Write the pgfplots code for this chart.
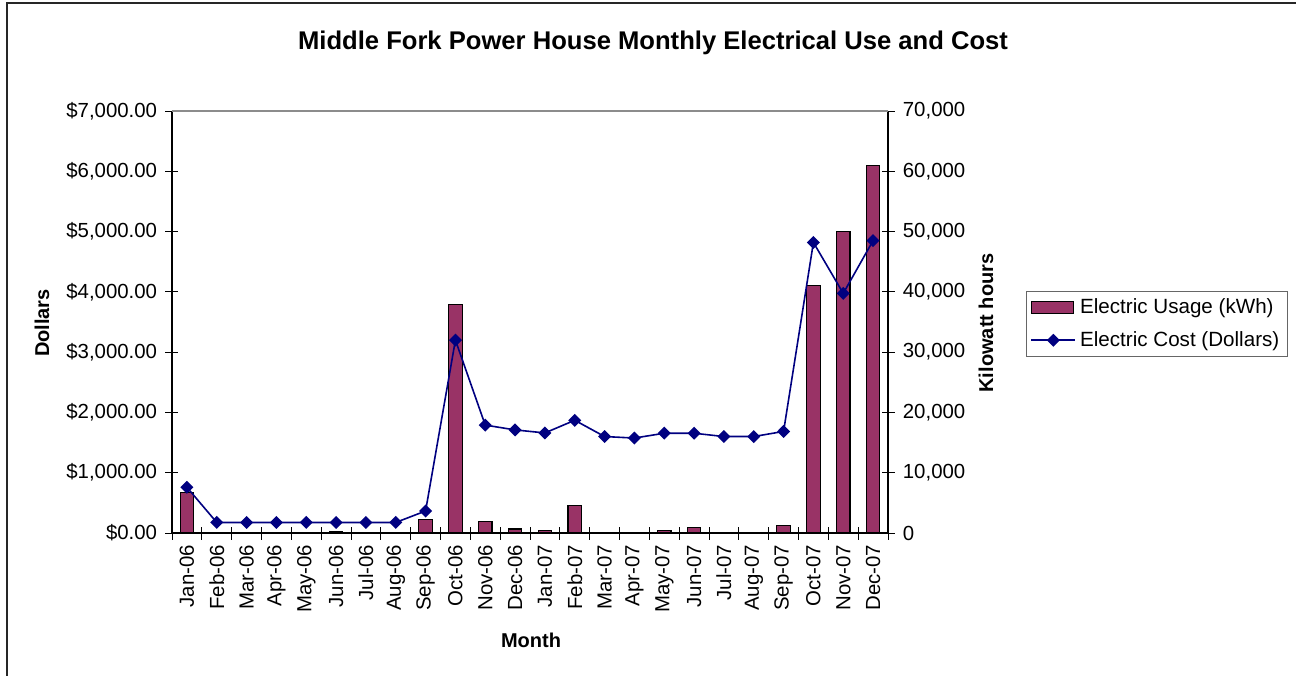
\documentclass[border=0pt]{standalone}
\usepackage{fontspec}
\setmainfont{Liberation Sans}
\usepackage{pgfplots}
\usepackage{pgfplotstable}
\pgfplotsset{compat=1.18}
\definecolor{barcol}{HTML}{993366}
\definecolor{linecol}{HTML}{000080}

\pgfplotstableread{
idx kwh cost
0 6750 758
1 0 175
2 0 175
3 0 175
4 0 175
5 150 175
6 0 175
7 0 175
8 2270 365
9 37900 3200
10 1950 1790
11 660 1710
12 400 1660
13 4600 1870
14 0 1600
15 0 1575
16 400 1655
17 950 1655
18 0 1600
19 0 1600
20 1200 1685
21 41000 4820
22 50000 3975
23 61000 4850
}\datatable

\pgfplotsset{
  every tick label/.append style={font=\fontsize{10.2}{12}\selectfont},
  /pgf/number format/assume math mode=true,
  mylinelegend/.style={legend image code/.code={\draw[mark repeat=2,mark phase=2,##1] plot coordinates {(0pt,0pt)(11pt,0pt)(22pt,0pt)};}},
  mybarlegend/.style={legend image code/.code={\draw[fill=barcol,draw=black,line width=0.6pt] (0pt,-3pt) rectangle (21pt,3pt);}},
}

\begin{document}
\begin{tikzpicture}[x=1pt,y=1pt]
\useasboundingbox (-86,-71) rectangle (562,266.5);
\draw[line width=0.9pt, black!85] (-82.5,-80) -- (-82.5,264.8) -- (575,264.8);

% bars, right axis
\begin{axis}[
  at={(0,0)}, anchor=south west,
  scale only axis, width=358pt, height=211pt,
  xmin=-0.5, xmax=23.5, ymin=0, ymax=70000,
  scaled y ticks=false,
  axis y line*=right, axis x line*=bottom,
  axis line style={black, line width=0.6pt},
  tick align=center, major tick length=6.5pt,
  tick style={black, line width=0.5pt},
  xtick={-0.5,0.5,...,23.5},
  x tick label as interval,
  xticklabels={Jan-06,Feb-06,Mar-06,Apr-06,May-06,Jun-06,Jul-06,Aug-06,Sep-06,Oct-06,Nov-06,Dec-06,Jan-07,Feb-07,Mar-07,Apr-07,May-07,Jun-07,Jul-07,Aug-07,Sep-07,Oct-07,Nov-07,Dec-07},
  xticklabel style={rotate=90, anchor=east, inner sep=2.5pt},
  ytick={0,10000,20000,30000,40000,50000,60000,70000},
  yticklabels={0,{10,000},{20,000},{30,000},{40,000},{50,000},{60,000},{70,000}},
  yticklabel style={inner sep=1.5pt, xshift=2.5pt},
  clip=false,
]
\addplot[ybar, bar width=6.7pt, fill=barcol, draw=black, line width=0.6pt]
  table[x=idx, y=kwh]{\datatable};
\end{axis}

% line, left axis
\begin{axis}[
  at={(0,0)}, anchor=south west,
  scale only axis, width=358pt, height=211pt,
  xmin=-0.5, xmax=23.5, ymin=0, ymax=7000,
  scaled y ticks=false,
  axis y line*=left, hide x axis,
  axis line style={black, line width=0.6pt},
  tick align=center, major tick length=6.5pt,
  tick style={black, line width=0.5pt},
  ytick={0,1000,2000,3000,4000,5000,6000,7000},
  yticklabels={\$0.00,{\$1,000.00},{\$2,000.00},{\$3,000.00},{\$4,000.00},{\$5,000.00},{\$6,000.00},{\$7,000.00}},
  yticklabel style={inner sep=1.5pt, xshift=-2.5pt},
  clip=false,
  legend style={at={(axis description cs:1.1927,0.574)}, anchor=north west,
    draw=black!60, line width=0.6pt, font=\fontsize{10.3}{12}\selectfont,
    row sep=3.5pt, inner xsep=2pt, inner ysep=1.5pt,
    nodes={inner xsep=2pt}},
  legend cell align=left,
]
\draw[black!45, line width=0.6pt] (rel axis cs:0,1) -- (rel axis cs:1,1);
\addlegendimage{mybarlegend}
\addlegendentry{Electric Usage (kWh)}
\addplot[color=linecol, line width=0.8pt, mark=square*, mark size=1.9pt,
  mark options={rotate=45, fill=linecol, solid}, mylinelegend]
  table[x=idx, y=cost]{\datatable};
\addlegendentry{Electric Cost (Dollars)}
\end{axis}

\node[font=\fontsize{12.8}{15}\selectfont\bfseries] at (240.5,245) {Middle Fork Power House Monthly Electrical Use and Cost};
\node[rotate=90, font=\fontsize{10}{12}\selectfont\bfseries] at (-65,105) {Dollars};
\node[rotate=90, font=\fontsize{10}{12}\selectfont\bfseries] at (407,105) {Kilowatt hours};
\node[font=\fontsize{10}{12}\selectfont\bfseries] at (179.5,-53.5) {Month};
\end{tikzpicture}
\end{document}
